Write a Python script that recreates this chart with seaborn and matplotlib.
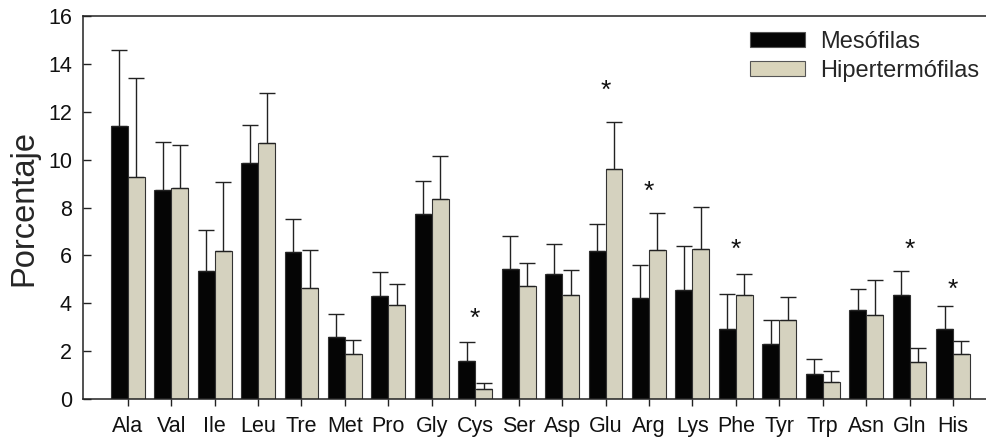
import numpy as np
import pandas as pd
import matplotlib
matplotlib.use("Agg")
import matplotlib.pyplot as plt
import seaborn as sns
from matplotlib.patches import Patch

categories = ["Ala", "Val", "Ile", "Leu", "Tre", "Met", "Pro", "Gly", "Cys", "Ser",
              "Asp", "Glu", "Arg", "Lys", "Phe", "Tyr", "Trp", "Asn", "Gln", "His"]
meso = [11.40, 8.75, 5.33, 9.84, 6.13, 2.57, 4.31, 7.71, 1.59, 5.44,
        5.21, 6.20, 4.21, 4.55, 2.94, 2.30, 1.03, 3.71, 4.34, 2.93]
meso_top = [14.57, 10.75, 7.04, 11.45, 7.54, 3.55, 5.29, 9.10, 2.37, 6.80,
            6.47, 7.33, 5.58, 6.39, 4.37, 3.28, 1.69, 4.58, 5.33, 3.87]
hiper = [9.28, 8.82, 6.17, 10.68, 4.65, 1.86, 3.94, 8.36, 0.43, 4.72,
         4.34, 9.59, 6.21, 6.27, 4.35, 3.29, 0.72, 3.53, 1.53, 1.88]
hiper_top = [13.40, 10.60, 9.08, 12.77, 6.24, 2.47, 4.80, 10.15, 0.68, 5.68,
             5.39, 11.58, 7.75, 8.04, 5.21, 4.26, 1.17, 4.97, 2.15, 2.44]
series = ["Mesófilas", "Hipertermófilas"]
star_cats = ["Cys", "Glu", "Arg", "Phe", "Gln", "His"]
star_y = [3.35, 12.86, 8.67, 6.21, 6.21, 4.58]
yticks = [0, 2, 4, 6, 8, 10, 12, 14, 16]

colors = {"Mesófilas": "#050505", "Hipertermófilas": "#d9d4bb"}

df = pd.DataFrame({
    "cat": categories * 2,
    "val": meso + hiper,
    "top": meso_top + hiper_top,
    "serie": [series[0]] * len(categories) + [series[1]] * len(categories),
})

sns.set_style("white")
plt.rcParams["font.family"] = ["Liberation Sans", "DejaVu Sans"]

fig = plt.figure(figsize=(9.86, 4.38), dpi=100)
ax = fig.add_axes([0.0842, 0.089, 0.9158, 0.8745])

sns.barplot(data=df, x="cat", y="val", hue="serie", order=categories,
            hue_order=series, palette=colors, width=0.78, errorbar=None,
            edgecolor="#333333", linewidth=0.8, legend=False, ax=ax)

for cont, s in zip(ax.containers, series):
    tops = df[df["serie"] == s]["top"].to_numpy()
    for bar, t in zip(cont.patches, tops):
        xc = bar.get_x() + bar.get_width() / 2
        h = bar.get_height()
        ax.errorbar([xc], [h], yerr=[[0], [t - h]], fmt="none",
                    ecolor="#222222", elinewidth=1.0, capsize=5.5,
                    capthick=1.0, zorder=1)

for c, yv in zip(star_cats, star_y):
    ax.text(categories.index(c), yv, "*", ha="center", va="center",
            fontsize=19, color="#111111")

ax.set_ylim(0, 16)
ax.set_xlim(-1.03, len(categories) - 0.24)
ax.set_yticks(yticks)
ax.set_yticklabels([str(v) for v in yticks])
ax.set_xlabel("")
ax.set_ylabel("Porcentaje", fontsize=23.5)
ax.yaxis.label.set_va("center")
ax.yaxis.set_label_coords(-0.066, 0.5)

for sp in ["left", "top", "bottom"]:
    ax.spines[sp].set_visible(True)
    ax.spines[sp].set_color("#222222")
    ax.spines[sp].set_linewidth(1.1)
ax.spines["right"].set_visible(False)

ax.tick_params(axis="y", direction="in", length=6, width=1, labelsize=15.5,
               pad=8, left=True, colors="#222222", labelcolor="#111111")
ax.tick_params(axis="x", direction="out", length=5, width=1, labelsize=15.5,
               pad=7, bottom=True, colors="#222222", labelcolor="#111111")

handles = [Patch(facecolor=colors[s], edgecolor="#555555", linewidth=0.8) for s in series]
fig.legend(handles, series, loc="upper right", bbox_to_anchor=(0.993, 0.93),
           frameon=False, fontsize=17, handlelength=2.3, handleheight=0.62,
           labelspacing=0.3, handletextpad=0.65, borderaxespad=0, borderpad=0)

fig.savefig("out.png", dpi=100)
